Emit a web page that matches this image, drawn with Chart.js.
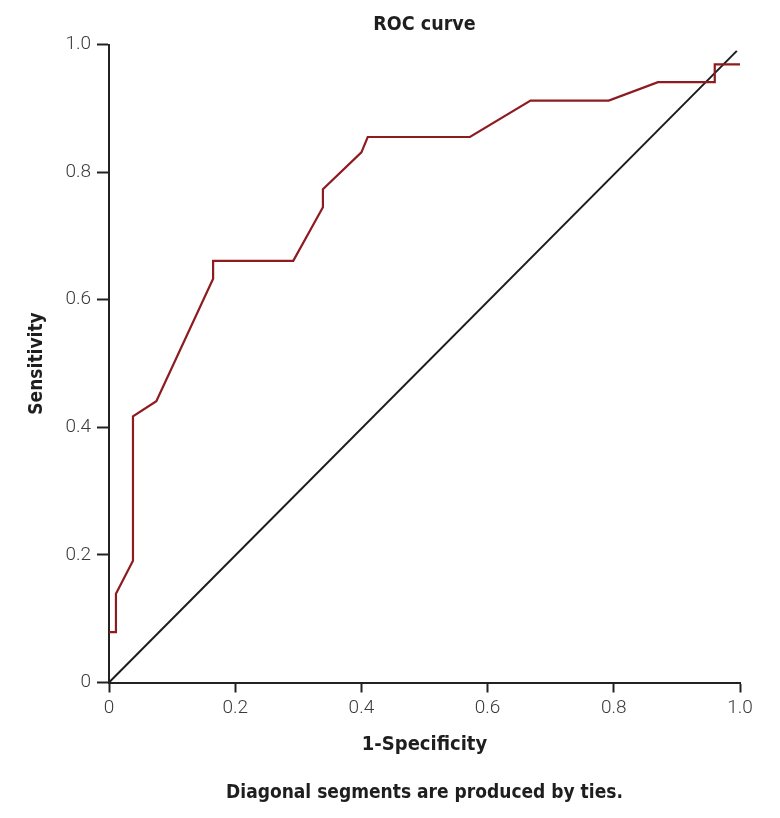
<!DOCTYPE html>
<html>
<head>
<meta charset="utf-8">
<script src="https://cdn.jsdelivr.net/npm/chart.js@4"></script>
<style>
  body { margin: 0; background: #fff; }
  canvas { display: block; }
</style>
</head>
<body>
<canvas id="rocChart" width="780" height="818"></canvas>
<script>
// ROC curve points
const fpr = [0, 0.011, 0.011, 0.038, 0.038, 0.075, 0.165, 0.165, 0.292, 0.339, 0.339, 0.40, 0.41, 0.572, 0.668, 0.792, 0.87, 0.96, 0.96, 1.0];
const tpr = [0.079, 0.079, 0.139, 0.191, 0.417, 0.441, 0.633, 0.661, 0.661, 0.745, 0.773, 0.831, 0.855, 0.855, 0.912, 0.912, 0.941, 0.941, 0.969, 0.969];
// reference line
const diagX = [0, 0.995];
const diagY = [0, 0.99];
const tickVals = [0, 0.2, 0.4, 0.6, 0.8, 1.0];
const tickLabels = ['0', '0.2', '0.4', '0.6', '0.8', '1.0'];

const BOLD = "'Liberation Sans Narrow', 'DejaVu Sans Condensed', 'Arial Narrow', sans-serif";
const LIGHT = "Roboto, 'Open Sans', sans-serif";

const tickLabel = v => {
  const i = tickVals.findIndex(t => Math.abs(t - v) < 1e-6);
  return i >= 0 ? tickLabels[i] : '';
};

new Chart(document.getElementById('rocChart'), {
  type: 'scatter',
  data: {
    datasets: [
      { data: fpr.map((x, i) => ({x: x, y: tpr[i]})), showLine: true, borderColor: '#8e1b1f', borderWidth: 2.2, pointRadius: 0, tension: 0 },
      { data: diagX.map((x, i) => ({x: x, y: diagY[i]})), showLine: true, borderColor: '#1c1c1c', borderWidth: 2, pointRadius: 0 }
    ]
  },
  options: {
    responsive: false,
    animation: false,
    layout: { padding: { left: 0, right: 40, top: 0, bottom: 0 } },
    plugins: {
      legend: { display: false },
      tooltip: { enabled: false },
      title: { display: true, fullSize: false, text: 'ROC curve', color: '#1e1e1e', font: { family: BOLD, size: 19.5, weight: 'bold' }, padding: { top: 13.3, bottom: 7.8 } },
      subtitle: { display: true, fullSize: false, position: 'bottom', text: 'Diagonal segments are produced by ties.', color: '#1e1e1e', font: { family: BOLD, size: 19, weight: 'bold' }, padding: { top: 19.1, bottom: 13.6 } }
    },
    scales: {
      x: {
        type: 'linear', min: 0, max: 1,
        afterFit: s => { s.height = 80; },
        afterBuildTicks: s => { s.ticks = tickVals.map(v => ({value: v})); },
        border: { color: '#222', width: 2 },
        grid: { drawOnChartArea: false, drawTicks: true, tickLength: 10, color: '#222', tickWidth: 2 },
        ticks: { callback: tickLabel, color: '#3a3a3a', padding: 4, maxRotation: 0, font: { family: LIGHT, size: 19, weight: '300' } },
        title: { display: true, text: '1-Specificity', color: '#1e1e1e', font: { family: BOLD, size: 20, weight: 'bold' }, padding: { top: 0, bottom: 5.5 } }
      },
      y: {
        type: 'linear', min: 0, max: 1,
        afterFit: s => { s.width = 109; },
        afterBuildTicks: s => { s.ticks = tickVals.map(v => ({value: v})); },
        border: { color: '#222', width: 2 },
        grid: { drawOnChartArea: false, drawTicks: true, tickLength: 12, color: '#222', tickWidth: 2 },
        ticks: { callback: tickLabel, color: '#3a3a3a', padding: 6, font: { family: LIGHT, size: 19, weight: '300' } },
        title: { display: true, text: 'Sensitivity', color: '#1e1e1e', font: { family: BOLD, size: 19, weight: 'bold' }, padding: { top: 25.6, bottom: 0 } }
      }
    }
  }
});
</script>
</body>
</html>
